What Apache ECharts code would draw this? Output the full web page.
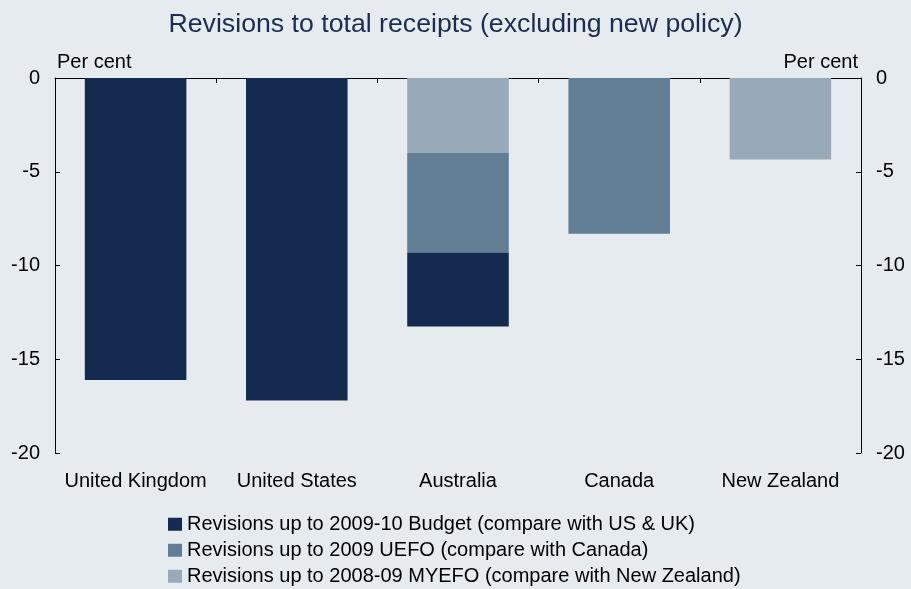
<!DOCTYPE html>
<html><head><meta charset="utf-8">
<script src="https://cdn.jsdelivr.net/npm/echarts@6/dist/echarts.min.js"></script>
<style>html,body{margin:0;padding:0;background:#e6ebf0;}#c{width:911px;height:589px;}</style>
</head><body><div id="c"></div>
<script>
const categories = ['United Kingdom', 'United States', 'Australia', 'Canada', 'New Zealand'];
const budget = [-16.1, -17.2, -3.95, null, null];
const uefo = [null, null, -5.3, -8.3, null];
const myefo = [null, null, -4.0, null, -4.35];
const seriesNames = [
  'Revisions up to 2009-10 Budget (compare with US & UK)',
  'Revisions up to 2009 UEFO (compare with Canada)',
  'Revisions up to 2008-09 MYEFO (compare with New Zealand)'
];
const yTicks = { min: -20, max: 0, interval: 5 };

const font = 'Liberation Sans, Arial, sans-serif';
const chart = echarts.init(document.getElementById('c'), null, { renderer: 'canvas' });
const yAxisBase = (pos) => ({
  type: 'value', position: pos, min: yTicks.min, max: yTicks.max, interval: yTicks.interval,
  axisLine: { show: true, lineStyle: { color: '#000', width: 1 } },
  axisTick: { show: true, inside: true, length: 5, lineStyle: { color: '#000' } },
  axisLabel: { color: '#000', fontSize: 20, fontFamily: font, margin: 15 },
  splitLine: { show: false },
  name: 'Per cent', nameLocation: 'end', nameGap: 6,
  nameTextStyle: { color: '#000', fontSize: 20, fontFamily: font, align: pos === 'left' ? 'left' : 'right',
    padding: pos === 'left' ? [0, 0, 0, 2] : [0, 3, 0, 0] }
});
chart.setOption({
  backgroundColor: '#e6ebf0',
  animation: false,
  title: { text: 'Revisions to total receipts (excluding new policy)', left: 'center', top: 6,
    textStyle: { color: '#1b2b52', fontSize: 26.7, fontWeight: 'normal', fontFamily: font } },
  grid: { left: 55, right: 50, top: 78, bottom: 136 },
  legend: {
    orient: 'vertical', left: 163, top: 509, height: 90, itemWidth: 14, itemHeight: 13, itemGap: 5.5,
    data: seriesNames,
    textStyle: { color: '#000', fontSize: 20, fontFamily: font, lineHeight: 20.5 },
    icon: 'rect'
  },
  xAxis: [
    { type: 'category', data: categories, position: 'bottom',
      axisLine: { show: false }, axisTick: { show: false },
      axisLabel: { color: '#000', fontSize: 20, fontFamily: font, margin: 18, interval: 0 } },
    { type: 'category', data: categories, position: 'top',
      axisLine: { show: true, onZero: false, lineStyle: { color: '#000' } },
      axisTick: { show: true, inside: true, length: 5, lineStyle: { color: '#000' } },
      axisLabel: { show: false } }
  ],
  yAxis: [yAxisBase('left'), yAxisBase('right')],
  series: [
    { name: seriesNames[2], type: 'bar', stack: 'a', data: myefo, barWidth: '63%', itemStyle: { color: '#98aab8' } },
    { name: seriesNames[1], type: 'bar', stack: 'a', data: uefo, barWidth: '63%', itemStyle: { color: '#627e95' } },
    { name: seriesNames[0], type: 'bar', stack: 'a', data: budget, barWidth: '63%', itemStyle: { color: '#152a4f' } }
  ]
});
</script></body></html>
